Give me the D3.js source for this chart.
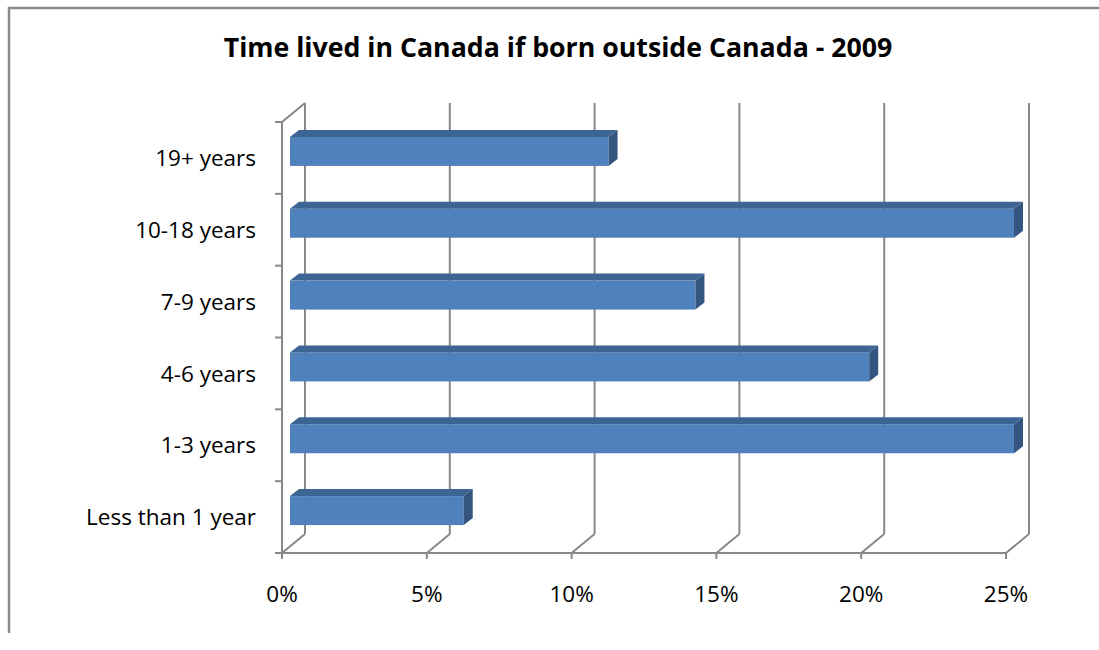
<!DOCTYPE html>
<html>
<head>
<meta charset="utf-8">
<script src="https://cdn.jsdelivr.net/npm/d3@7"></script>
<style>
  html, body { margin: 0; padding: 0; background: #fff; }
  svg { display: block; }
  text { font-family: "Open Sans", "Noto Sans", sans-serif; fill: #000; }
</style>
</head>
<body>
<svg id="chart" width="1099" height="650"></svg>
<script>
// ---- data ----
const categories = ["Less than 1 year", "1-3 years", "4-6 years", "7-9 years", "10-18 years", "19+ years"];
const values = [6, 25, 20, 14, 25, 11];
const tickValues = [0, 5, 10, 15, 20, 25];
const tickLabels = ["0%", "5%", "10%", "15%", "20%", "25%"];
const title = "Time lived in Canada if born outside Canada - 2009";

// ---- layout ----
const svg = d3.select("#chart");
const W = 1099, H = 650;
const front = { left: 282, right: 1006, top: 122, bottom: 553 };
const depth = { dx: 23, dy: -19 };      // back wall offset
const barOff = { dx: 8, dy: -6.5 };     // bar front face offset
const barDepth = { dx: 9, dy: -7 };     // bar thickness
const barH = 29;
const gridColor = "#888888";

const x = d3.scaleLinear().domain([0, 25]).range([front.left, front.right]);
const y = d3.scaleBand().domain(categories.slice().reverse()).range([front.top, front.bottom]).padding(0);

// helper: fit font size so a text reaches a target width
function fitSize(sel, target) {
  const w = sel.node().getComputedTextLength();
  const fs = parseFloat(sel.attr("font-size"));
  return fs * target / w;
}

// border (left and top only visible)
svg.append("path")
  .attr("d", `M9,633 L9,8 L${W},8`)
  .attr("fill", "none").attr("stroke", "#8a8a8a").attr("stroke-width", 2.5);

// title
const titleSel = svg.append("text")
  .attr("x", 558).attr("y", 57)
  .attr("text-anchor", "middle")
  .attr("font-weight", "bold")
  .attr("font-size", 22)
  .text(title);
titleSel.attr("font-size", fitSize(titleSel, 669));

const g = svg.append("g");

// back wall gridlines
g.selectAll("line.grid").data(tickValues).join("line")
  .attr("class", "grid")
  .attr("x1", d => x(d) + depth.dx).attr("x2", d => x(d) + depth.dx)
  .attr("y1", front.bottom + depth.dy).attr("y2", front.top + depth.dy)
  .attr("stroke", gridColor).attr("stroke-width", 2);

// floor diagonals
g.selectAll("line.floor").data(tickValues).join("line")
  .attr("class", "floor")
  .attr("x1", d => x(d)).attr("x2", d => x(d) + depth.dx)
  .attr("y1", front.bottom).attr("y2", front.bottom + depth.dy)
  .attr("stroke", gridColor).attr("stroke-width", 2);

// side wall top diagonal
g.append("line")
  .attr("x1", front.left).attr("y1", front.top)
  .attr("x2", front.left + depth.dx).attr("y2", front.top + depth.dy)
  .attr("stroke", gridColor).attr("stroke-width", 2);

// front x axis line
g.append("line")
  .attr("x1", front.left).attr("x2", front.right)
  .attr("y1", front.bottom).attr("y2", front.bottom)
  .attr("stroke", gridColor).attr("stroke-width", 2);

// front y axis line
g.append("line")
  .attr("x1", front.left).attr("x2", front.left)
  .attr("y1", front.top).attr("y2", front.bottom)
  .attr("stroke", gridColor).attr("stroke-width", 2);

// x ticks
g.selectAll("line.xtick").data(tickValues).join("line")
  .attr("class", "xtick")
  .attr("x1", d => x(d)).attr("x2", d => x(d))
  .attr("y1", front.bottom).attr("y2", front.bottom + 6)
  .attr("stroke", gridColor).attr("stroke-width", 2);

// y ticks at category boundaries
const yBounds = categories.map(c => y(c)).concat([front.bottom]);
g.selectAll("line.ytick").data(yBounds).join("line")
  .attr("class", "ytick")
  .attr("x1", front.left - 7).attr("x2", front.left)
  .attr("y1", d => d).attr("y2", d => d)
  .attr("stroke", gridColor).attr("stroke-width", 2);

// y labels
const ylabs = g.selectAll("text.ylab").data(categories).join("text")
  .attr("class", "ylab")
  .attr("x", 256).attr("y", d => y(d) + y.bandwidth() / 2)
  .attr("dy", "0.36em")
  .attr("text-anchor", "end")
  .attr("font-size", 18)
  .text(d => d);
const labelSize = fitSize(ylabs.filter((d, i) => i === 0), 170);
ylabs.attr("font-size", labelSize);

// x labels
g.selectAll("text.xlab").data(tickValues).join("text")
  .attr("class", "xlab")
  .attr("x", d => x(d)).attr("y", 602)
  .attr("text-anchor", "middle")
  .attr("font-size", labelSize)
  .text((d, i) => tickLabels[i]);

// bars
const bars = g.selectAll("g.bar").data(categories.map((c, i) => ({ c, v: values[i] }))).join("g").attr("class", "bar");
const bx0 = d => x(0) + barOff.dx;
const bx1 = d => x(d.v) + barOff.dx;
const byT = d => y(d.c) + y.bandwidth() / 2 + barOff.dy - barH / 2;
const byB = d => byT(d) + barH;

bars.append("rect")
  .attr("x", bx0).attr("y", byT)
  .attr("width", d => bx1(d) - bx0(d)).attr("height", barH)
  .attr("fill", "#4f81bd");

bars.append("path")
  .attr("d", d => `M${bx0(d)},${byT(d)} L${bx0(d) + barDepth.dx},${byT(d) + barDepth.dy} L${bx1(d) + barDepth.dx},${byT(d) + barDepth.dy} L${bx1(d)},${byT(d)} Z`)
  .attr("fill", "#3c6593");

bars.append("path")
  .attr("d", d => `M${bx1(d)},${byT(d)} L${bx1(d) + barDepth.dx},${byT(d) + barDepth.dy} L${bx1(d) + barDepth.dx},${byB(d) + barDepth.dy} L${bx1(d)},${byB(d)} Z`)
  .attr("fill", "#34557f");
</script>
</body>
</html>
